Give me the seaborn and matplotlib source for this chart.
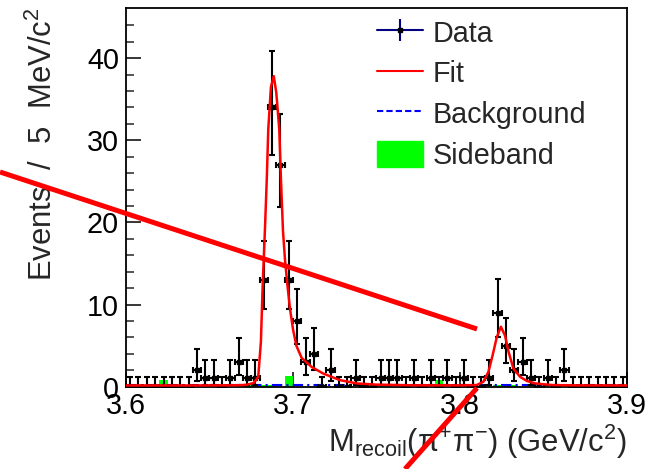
import numpy as np
import pandas as pd
import matplotlib
matplotlib.use("Agg")
import matplotlib.pyplot as plt
import seaborn as sns
from matplotlib.lines import Line2D
from matplotlib.patches import Patch
from matplotlib.legend_handler import HandlerTuple

# ---------------- data ----------------
bin_lo, bin_hi, bin_width = 3.60, 3.90, 0.005
counts = [0, 0, 0, 0, 0, 0, 0, 0, 2, 1,
          1, 0, 1, 3, 1, 1, 13, 34, 27, 13,
          8, 3, 4, 0, 2, 0, 0, 1, 0, 0,
          1, 1, 1, 0, 1, 0, 1, 0, 1, 0,
          1, 0, 0, 1, 9, 5, 2, 3, 1, 0,
          1, 0, 2, 0, 0, 0, 0, 0, 0, 0]
sideband = [0, 0, 0, 0, 0.8, 0, 0, 0, 0, 0.2,
            0.2, 0, 0, 0, 0.25, 0.25, 0.25, 0.25, 0, 1.3,
            0, 0, 0, 0, 0, 0, 0, 0, 0, 0,
            0, 0, 0, 0, 0, 0, 0, 0.8, 0, 0,
            0, 0, 0, 0, 0.25, 0.25, 0.25, 0, 0, 0,
            0, 0, 0, 0, 0, 0, 0, 0, 0, 0]
# asymmetric Poisson error bars (lower, upper) per count, as drawn
err_lo = {0: 0.0, 1: 0.83, 2: 1.29, 3: 1.63, 4: 1.91, 5: 2.16, 8: 2.77, 9: 2.94, 13: 3.56, 27: 5.16, 34: 5.80}
err_hi = {0: 1.15, 1: 2.30, 2: 2.64, 3: 2.92, 4: 3.16, 5: 3.38, 8: 3.95, 9: 4.11, 13: 4.70, 27: 6.23, 34: 6.87}

fit_mass = [3.600, 3.640, 3.665, 3.672, 3.6765, 3.6792, 3.6808, 3.6818, 3.6832, 3.6843,
            3.6852, 3.6868, 3.6885, 3.6900, 3.6918, 3.6928, 3.6940, 3.6952, 3.6966, 3.6982,
            3.7000, 3.7020, 3.7052, 3.7112, 3.7181, 3.7281, 3.7381, 3.750, 3.770, 3.800,
            3.810, 3.814, 3.817, 3.8195, 3.822, 3.8245, 3.827, 3.829, 3.832, 3.836,
            3.840, 3.845, 3.855, 3.870, 3.900]
fit_vals = [0.15, 0.15, 0.17, 0.22, 0.45, 1.2, 5.5, 12.0, 19.1, 25.2,
            31.3, 36.5, 37.8, 35.8, 31.3, 25.2, 19.0, 15.5, 12.5, 9.5,
            7.0, 5.0, 3.5, 2.4, 1.6, 0.8, 0.4, 0.25, 0.17, 0.16,
            0.2, 0.6, 1.8, 3.8, 6.0, 7.3, 6.2, 4.3, 2.2, 1.2,
            0.7, 0.4, 0.2, 0.16, 0.15]
bkg_mass = [3.60, 3.90]
bkg_vals = [0.15, 0.15]

x_ticks = [3.6, 3.7, 3.8, 3.9]
x_tick_labels = ["3.6", "3.7", "3.8", "3.9"]
y_ticks = [0, 10, 20, 30, 40]
y_tick_labels = ["0", "10", "20", "30", "40"]
legend_labels = ["Data", "Fit", "Background", "Sideband"]
x_title = r"M$_{\mathregular{recoil}}$(π$^{\mathregular{+}}$π$^{\mathregular{-}}$) (GeV/c$^{\mathregular{2}}$)"
y_title = r"Events  /  5  MeV/c$^{\mathregular{2}}$"

# red overlay strokes (figure fractions)
overlay_strokes = [([0.0, 0.7384], [0.6333, 0.2985]),
                   ([0.7384, 0.6269], [0.1727, 0.0])]

# ---------------- figure ----------------
sns.set_theme(style="white")
plt.rcParams["font.family"] = ["Liberation Sans", "DejaVu Sans"]
plt.rcParams["mathtext.fontset"] = "custom"
plt.rcParams["mathtext.rm"] = "Liberation Sans"
plt.rcParams["mathtext.it"] = "Liberation Sans:italic"
plt.rcParams["mathtext.bf"] = "Liberation Sans:bold"

FS = 20.7
FS_TITLE = 22.3
fig = plt.figure(figsize=(6.46, 4.69), dpi=100)
ax = fig.add_axes([0.195, 0.1755, 0.7756, 0.8075])

edges = np.linspace(bin_lo, bin_hi, len(counts) + 1)
centers = 0.5 * (edges[:-1] + edges[1:])
df = pd.DataFrame({"m": centers, "n": counts, "sb": sideband})

# sideband histogram
sns.histplot(data=df, x="m", weights="sb", bins=len(counts), binrange=(bin_lo, bin_hi),
             ax=ax, color="#00ff00", alpha=1.0, element="bars", fill=True, linewidth=0)

# background and fit
sns.lineplot(x=bkg_mass, y=bkg_vals, ax=ax, color="#0000ff", linewidth=1.5,
             linestyle=(0, (5, 2, 1, 2)), zorder=2, estimator=None, sort=False)
sns.lineplot(x=fit_mass, y=fit_vals, ax=ax, color="#ff0000", linewidth=1.8,
             zorder=4, estimator=None, sort=False)

# data
lo = [err_lo[c] for c in counts]
hi = [err_hi[c] for c in counts]
ax.errorbar(df["m"], df["n"], yerr=[lo, hi], xerr=bin_width / 2, fmt="s", color="black",
            markersize=3.2, elinewidth=1.5, capsize=2.4, capthick=1.5, zorder=3)

ax.set_xlim(bin_lo, bin_hi)
ax.set_ylim(0, 46.1)
ax.set_xticks(x_ticks)
ax.set_xticklabels(x_tick_labels)
ax.set_yticks(y_ticks)
ax.set_yticklabels(y_tick_labels)
ax.set_yticks(np.arange(0, 46, 2), minor=True)
ax.tick_params(axis="both", which="major", direction="in", length=10.5, width=1.1,
               labelsize=FS, colors="black", left=True, bottom=True, top=False, right=False)
ax.tick_params(axis="y", which="minor", direction="in", length=5.5, width=1.1, left=True)
ax.tick_params(axis="y", which="major", pad=5)
ax.tick_params(axis="x", which="major", pad=4)
for s in ax.spines.values():
    s.set_color("black")
    s.set_linewidth(1.3)

ax.set_xlabel(x_title, fontsize=FS_TITLE, loc="right")
ax.xaxis.set_label_coords(1.0, -0.094)
ax.set_ylabel(y_title, fontsize=FS_TITLE, loc="top")
ax.yaxis.set_label_coords(-0.134, 1.0)

h_data = (Line2D([0], [0], color="#000080", linewidth=1.5, marker="|", markersize=16,
                 markeredgewidth=1.5),
          Line2D([0], [0], color="black", linestyle="none", marker="s", markersize=2.5))
h_fit = Line2D([0], [0], color="#ff0000", linewidth=1.5)
h_bkg = Line2D([0], [0], color="#0000ff", linewidth=1.5, linestyle=(0, (3, 1.5)))
h_sb = Patch(facecolor="#00ff00", edgecolor="#00ff00")
leg = ax.legend([h_data, h_fit, h_bkg, h_sb], legend_labels,
                handler_map={tuple: HandlerTuple(ndivide=1)},
                loc="upper left", bbox_to_anchor=(0.501, 0.972), frameon=False,
                fontsize=FS, handlelength=1.6, handleheight=1.05, handletextpad=0.33,
                labelspacing=0.40, borderpad=0, borderaxespad=0)

for xs, ys in overlay_strokes:
    fig.add_artist(Line2D(xs, ys, transform=fig.transFigure, color="#ff0000",
                          linewidth=3.6, solid_capstyle="butt", zorder=10))

fig.savefig("out.png", dpi=100)
